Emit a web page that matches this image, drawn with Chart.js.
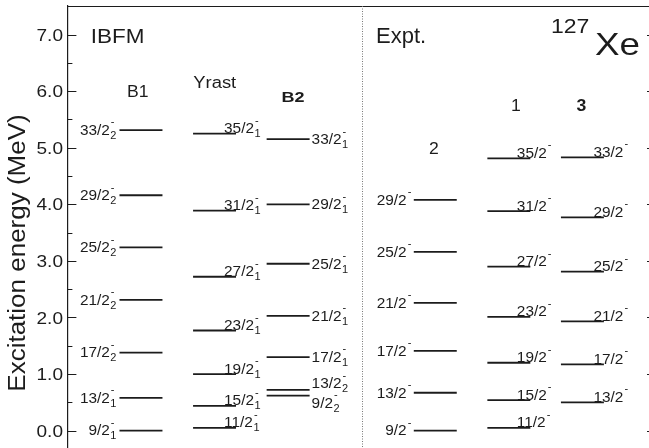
<!DOCTYPE html>
<html>
<head>
<meta charset="utf-8">
<script src="https://cdn.jsdelivr.net/npm/chart.js@4/dist/chart.umd.min.js"></script>
<style>
  html, body { margin: 0; padding: 0; background: #fff; overflow: hidden; }
  canvas { display: block; }
</style>
</head>
<body>
<canvas id="levels" width="656" height="448"></canvas>
<script>
// ---- Level data (excitation energies in MeV) ----
// IBFM band B1
const b1Spins   = ['9/2', '13/2', '17/2', '21/2', '25/2', '29/2', '33/2'];
const b1Index   = ['1', '1', '2', '2', '2', '2', '2'];
const b1Energy  = [0.00, 0.58, 1.38, 2.31, 3.24, 4.16, 5.31];

// IBFM yrast band
const yrastSpins  = ['11/2', '15/2', '19/2', '23/2', '27/2', '31/2', '35/2'];
const yrastIndex  = ['1', '1', '1', '1', '1', '1', '1'];
const yrastEnergy = [0.05, 0.44, 1.00, 1.77, 2.72, 3.89, 5.25];

// IBFM band B2
const b2Spins  = ['9/2', '13/2', '17/2', '21/2', '25/2', '29/2', '33/2'];
const b2Index  = ['2', '2', '1', '1', '1', '1', '1'];
const b2Energy = [0.62, 0.72, 1.30, 2.03, 2.95, 4.00, 5.15];

// Experimental band 2
const expt2Spins  = ['9/2', '13/2', '17/2', '21/2', '25/2', '29/2'];
const expt2Energy = [0.00, 0.67, 1.41, 2.26, 3.16, 4.08];

// Experimental band 1
const expt1Spins  = ['11/2', '15/2', '19/2', '23/2', '27/2', '31/2', '35/2'];
const expt1Energy = [0.05, 0.54, 1.20, 2.01, 2.90, 3.88, 4.81];

// Experimental band 3
const expt3Spins  = ['13/2', '17/2', '21/2', '25/2', '29/2', '33/2'];
const expt3Energy = [0.50, 1.17, 1.93, 2.81, 3.77, 4.83];

// Axis ticks
const yTickValues = [0, 1, 2, 3, 4, 5, 6, 7];
const yTickLabels = ['0.0', '1.0', '2.0', '3.0', '4.0', '5.0', '6.0', '7.0'];
const yAxisTitle  = 'Excitation energy (MeV)';

// Panel and column headings
const panelTitles  = ['IBFM', 'Expt.'];
const columnTitles = ['B1', 'Yrast', 'B2', '2', '1', '3'];
const nucleusMass  = '127';
const nucleusName  = 'Xe';

// ---- Column layout on the x scale ----
// label style: 'left' = text before the bar, 'right' = text after the bar,
// 'over' = text sitting on the right half of the bar
const columns = [
  { x: 1, spins: b1Spins,    index: b1Index,    energy: b1Energy,    label: 'left'  },
  { x: 2, spins: yrastSpins, index: yrastIndex, energy: yrastEnergy, label: 'over', dx: 9.5 },
  { x: 3, spins: b2Spins,    index: b2Index,    energy: b2Energy,    label: 'right' },
  { x: 5, spins: expt2Spins, index: null,       energy: expt2Energy, label: 'left'  },
  { x: 6, spins: expt1Spins, index: null,       energy: expt1Energy, label: 'over', dx: 8 },
  { x: 7, spins: expt3Spins, index: null,       energy: expt3Energy, label: 'over', dx: 11 }
];
const HALF_WIDTH = 0.292;
// nearly degenerate B2 levels: spread their labels apart vertically (px)
const labelNudge = { 2: { '13/2': -6.5, '9/2': 7.5 } };

const INK = '#1c1c1c';
const FONT = '"Liberation Sans", Arial, Helvetica, sans-serif';

// one two-point line dataset per level
const datasets = [];
columns.forEach(col => {
  col.energy.forEach(e => {
    datasets.push({
      data: [{ x: col.x - HALF_WIDTH, y: e }, { x: col.x + HALF_WIDTH, y: e }],
      showLine: true,
      borderColor: INK,
      borderWidth: 1.8,
      pointRadius: 0,
      pointHoverRadius: 0,
      fill: false
    });
  });
});

// ---- text helpers ----
function setFont(ctx, size, bold) {
  ctx.font = (bold ? 'bold ' : '') + size + 'px ' + FONT;
}
function textWidth(ctx, s, size, bold, sx) {
  ctx.save();
  setFont(ctx, size, bold);
  const w = ctx.measureText(s).width * sx;
  ctx.restore();
  return w;
}
function drawText(ctx, s, x, y, size, opt) {
  opt = opt || {};
  const sx = opt.sx || 1;
  ctx.save();
  setFont(ctx, size, opt.bold);
  ctx.fillStyle = INK;
  ctx.textBaseline = 'alphabetic';
  ctx.textAlign = 'left';
  let w = ctx.measureText(s).width * sx;
  let x0 = x;
  if (opt.align === 'center') x0 = x - w / 2;
  if (opt.align === 'right') x0 = x - w;
  ctx.translate(x0, y);
  ctx.scale(sx, 1);
  ctx.fillText(s, 0, 0);
  ctx.restore();
}

const MAIN = 14, SMALL = 10, SX = 1.1;
function spinWidth(ctx, spin, sub) {
  const wm = textWidth(ctx, spin, MAIN, false, SX);
  const ws = sub ? textWidth(ctx, sub, SMALL, false, SX) : 0;
  const wd = textWidth(ctx, '-', SMALL, false, SX);
  return wm + 0.5 + Math.max(ws, wd);
}
function drawSpin(ctx, spin, sub, x0, base) {
  const wm = textWidth(ctx, spin, MAIN, false, SX);
  drawText(ctx, spin, x0, base, MAIN, { sx: SX });
  if (sub) drawText(ctx, sub, x0 + wm + 0.5, base + 4, SMALL, { sx: SX });
  drawText(ctx, '-', x0 + wm + 1, base - 9.5, SMALL, { sx: SX });
}

const decorations = {
  id: 'levelDecorations',
  afterDraw(chart) {
    const ctx = chart.ctx;
    const area = chart.chartArea;
    const xs = chart.scales.x, ys = chart.scales.y;

    ctx.save();
    ctx.strokeStyle = INK;
    ctx.lineWidth = 1.2;

    // frame: top edge and right edge
    ctx.beginPath();
    ctx.moveTo(area.left, area.top + 0.5);
    ctx.lineTo(area.right, area.top + 0.5);
    ctx.moveTo(area.right - 0.5, area.top);
    ctx.lineTo(area.right - 0.5, area.bottom);
    ctx.stroke();

    // inward ticks on both vertical axes
    ctx.lineWidth = 1;
    for (let v = 0; v <= 7.5; v += 0.5) {
      const y = Math.round(ys.getPixelForValue(v)) + 0.5;
      const major = Number.isInteger(v);
      const len = major ? 9 : 5;
      ctx.beginPath();
      ctx.moveTo(area.left, y);
      ctx.lineTo(area.left + len, y);
      ctx.moveTo(area.right, y);
      ctx.lineTo(area.right - len, y);
      ctx.stroke();
    }

    // dotted separator between calculation and experiment
    const xs4 = Math.round(xs.getPixelForValue(4)) + 0.5;
    ctx.strokeStyle = '#777';
    ctx.setLineDash([1, 1.5]);
    ctx.beginPath();
    ctx.moveTo(xs4, area.top);
    ctx.lineTo(xs4, area.bottom);
    ctx.stroke();
    ctx.setLineDash([]);
    ctx.restore();

    // tick labels
    yTickValues.forEach((v, i) => {
      const y = ys.getPixelForValue(v);
      drawText(ctx, yTickLabels[i], area.left - 4.4, y + 6.1, 17, { align: 'right', sx: 1.12 });
    });

    // axis title
    ctx.save();
    ctx.translate(25, 253);
    ctx.rotate(-Math.PI / 2);
    ctx.scale(1.13, 1);
    setFont(ctx, 23, false);
    ctx.fillStyle = INK;
    ctx.textAlign = 'center';
    ctx.textBaseline = 'alphabetic';
    ctx.fillText(yAxisTitle, 0, 0);
    ctx.restore();

    // level labels
    columns.forEach((col, ci) => {
      const left = xs.getPixelForValue(col.x - HALF_WIDTH);
      const right = xs.getPixelForValue(col.x + HALF_WIDTH);
      const mid = xs.getPixelForValue(col.x);
      col.energy.forEach((e, i) => {
        const spin = col.spins[i];
        const sub = col.index ? col.index[i] : null;
        const y = ys.getPixelForValue(e);
        const nudge = (labelNudge[ci] && labelNudge[ci][spin]) || 0;
        if (col.label === 'left') {
          const w = spinWidth(ctx, spin, sub);
          drawSpin(ctx, spin, sub, left - 3 - w, y + 4.8 + nudge);
        } else if (col.label === 'right') {
          drawSpin(ctx, spin, sub, right + 2, y + 4.8 + nudge);
        } else {
          drawSpin(ctx, spin, sub, mid + col.dx, y - 0.5 + nudge);
        }
      });
    });

    // panel headings
    drawText(ctx, panelTitles[0], xs.getPixelForValue(0) + 23.3, ys.getPixelForValue(6.845), 21, { sx: 1.07 });
    drawText(ctx, panelTitles[1], xs.getPixelForValue(4) + 14.4, ys.getPixelForValue(6.855), 22, { sx: 1.0 });

    // nucleus
    drawText(ctx, nucleusMass, 551, ys.getPixelForValue(7.02), 20, { sx: 1.15 });
    drawText(ctx, nucleusName, 595, ys.getPixelForValue(6.64), 32, { sx: 1.15 });

    // column headings
    const heads = [
      { dx: -3.2, e: 5.89, size: 16, bold: false, sx: 1.1 },
      { dx: 0.2,  e: 6.05, size: 16, bold: false, sx: 1.15 },
      { dx: 5,    e: 5.80, size: 15, bold: true,  sx: 1.2 },
      { dx: -1.5, e: 4.89, size: 16, bold: false, sx: 1.1 },
      { dx: 7,    e: 5.64, size: 16, bold: false, sx: 1.1 },
      { dx: -1,   e: 5.64, size: 16, bold: true,  sx: 1.1 }
    ];
    columns.forEach((col, ci) => {
      const h = heads[ci];
      drawText(ctx, columnTitles[ci], xs.getPixelForValue(col.x) + h.dx, ys.getPixelForValue(h.e),
               h.size, { align: 'center', bold: h.bold, sx: h.sx });
    });
  }
};

new Chart(document.getElementById('levels'), {
  type: 'scatter',
  data: { datasets },
  options: {
    responsive: false,
    animation: false,
    events: [],
    layout: { padding: { top: 6, left: 0, right: 0, bottom: 0 } },
    plugins: { legend: { display: false }, tooltip: { enabled: false } },
    scales: {
      x: { type: 'linear', min: 0, max: 8, display: false },
      y: {
        type: 'linear',
        min: -0.306,
        max: 7.504,
        afterBuildTicks: s => { s.ticks = yTickValues.map(v => ({ value: v })); },
        afterFit: s => { s.width = 67.4; },
        ticks: { display: false },
        grid: { display: false, drawTicks: false },
        border: { display: true, color: INK, width: 1.2 },
        title: { display: false }
      }
    }
  },
  plugins: [decorations]
});
</script>
</body>
</html>
